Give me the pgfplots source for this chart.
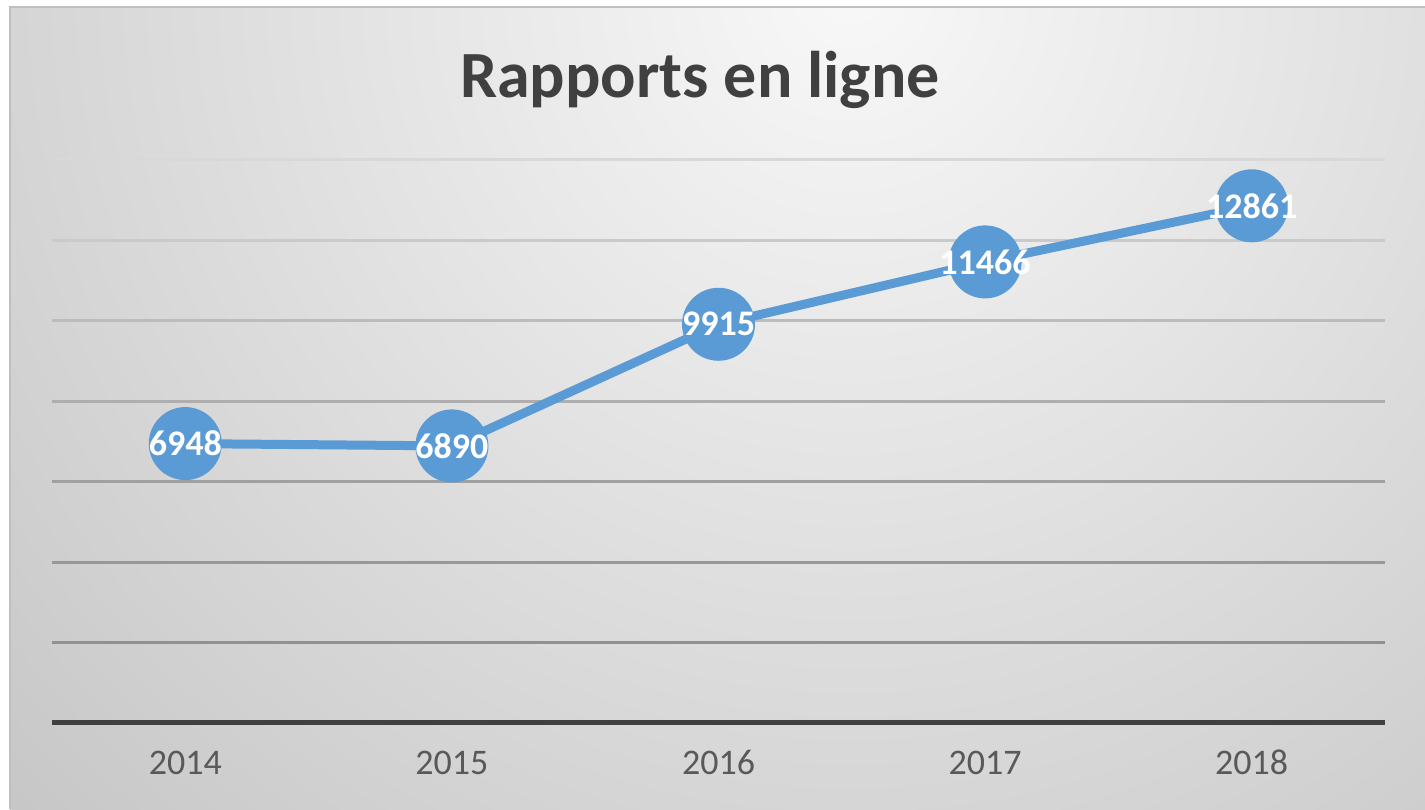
\documentclass[border=0pt]{standalone}
\usepackage{fontspec}
\setmainfont{Carlito}
\usepackage{pgfplots}
\pgfplotsset{compat=1.18}
\definecolor{serie}{HTML}{5B9BD5}
\definecolor{titre}{HTML}{404040}
\definecolor{tick}{HTML}{595959}
\definecolor{bord}{HTML}{BFBFBF}
\definecolor{fondin}{HTML}{F8F8F8}
\definecolor{fondout}{HTML}{C4C4C4}

\begin{document}
\begin{tikzpicture}
\useasboundingbox (0,0) rectangle (712.5pt,404.5pt);
\fill[white] (0,0) rectangle (712.5pt,404.5pt);
\begin{scope}
  \clip (5pt,0) rectangle (712.5pt,401pt);
  \fill[fondout] (5pt,0) rectangle (712.5pt,401pt);
  \shade[inner color=fondin, outer color=fondout] (425pt,410pt) circle (620pt);
\end{scope}
\draw[bord, line width=1.2pt] (5pt,0) -- (5pt,401pt) -- (712.5pt,401pt);

\node[font=\bfseries\fontsize{33pt}{36pt}\selectfont, text=titre, anchor=base]
  at (350pt,355.5pt) {Rapports en ligne};

\begin{axis}[
  at={(26pt,43pt)}, anchor=south west,
  scale only axis, width=666.5pt, height=281.5pt,
  xmin=-0.5, xmax=4.5, ymin=0, ymax=14000,
  axis line style={draw=none},
  xtick={0,1,2,3,4},
  xticklabels={2014,2015,2016,2017,2018},
  ytick=\empty,
  major tick length=0pt,
  xticklabel style={font=\fontsize{18pt}{20pt}\selectfont, text=tick,
                    anchor=base, yshift=-26pt},
  clip=false,
  nodes near coords,
  every node near coord/.append style={anchor=center, text=white,
      font=\bfseries\fontsize{18pt}{20pt}\selectfont},
  /pgf/number format/1000 sep={},
  /pgf/number format/assume math mode=true,
]
% lignes de grille, plus sombres vers le bas
\draw[color={rgb,255:red,145;green,145;blue,145}, line width=1.5pt] (axis cs:-0.5,2000) -- (axis cs:4.5,2000);
\draw[color={rgb,255:red,152;green,152;blue,152}, line width=1.5pt] (axis cs:-0.5,4000) -- (axis cs:4.5,4000);
\draw[color={rgb,255:red,160;green,160;blue,160}, line width=1.5pt] (axis cs:-0.5,6000) -- (axis cs:4.5,6000);
\draw[color={rgb,255:red,174;green,174;blue,174}, line width=1.5pt] (axis cs:-0.5,8000) -- (axis cs:4.5,8000);
\draw[color={rgb,255:red,188;green,188;blue,188}, line width=1.5pt] (axis cs:-0.5,10000) -- (axis cs:4.5,10000);
\draw[color={rgb,255:red,202;green,202;blue,202}, line width=1.5pt] (axis cs:-0.5,12000) -- (axis cs:4.5,12000);
\draw[color={rgb,255:red,216;green,216;blue,216}, line width=1.5pt] (axis cs:-0.5,14000) -- (axis cs:4.5,14000);
\draw[titre, line width=2.5pt] (axis cs:-0.5,0) -- (axis cs:4.5,0);

\addplot[serie, line width=4.5pt, line join=round, mark=*, mark size=16pt,
         mark options={fill=serie, draw=none}]
  coordinates {(0,6948)(1,6890)(2,9915)(3,11466)(4,12861)};
\end{axis}
\end{tikzpicture}
\end{document}
